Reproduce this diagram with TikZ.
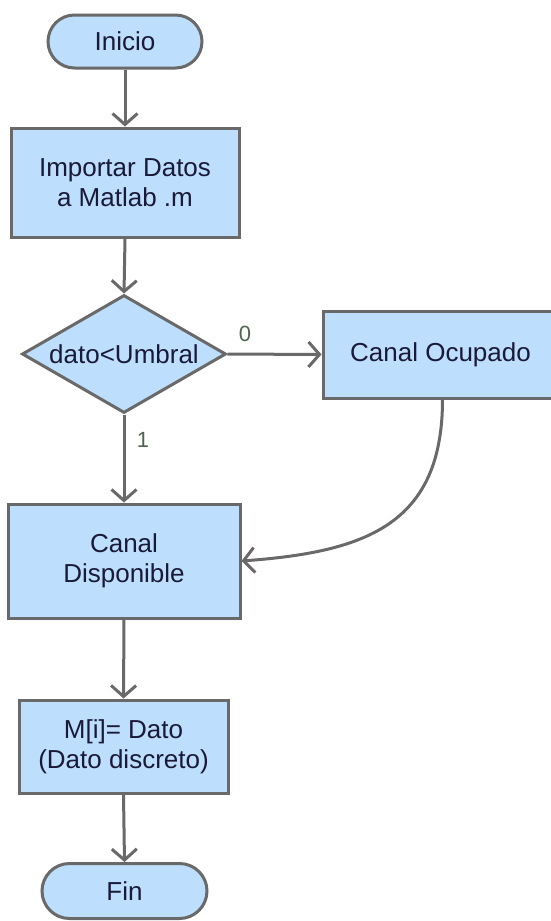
\documentclass[tikz,border=0pt]{standalone}
\usepackage{fontspec}
\setmainfont{Liberation Sans}
\usetikzlibrary{arrows.meta,shapes.geometric,shapes.misc}
\definecolor{boxfill}{RGB}{189,222,253}
\definecolor{boxline}{RGB}{105,105,105}
\definecolor{txt}{RGB}{26,26,56}
\definecolor{lbl}{RGB}{80,100,80}
\tikzset{
  base/.style={draw=boxline, fill=boxfill, line width=3pt, text=txt, align=center,
     font=\fontsize{26}{30}\selectfont, inner sep=0pt},
  procbox/.style={base, rectangle},
  termbox/.style={base, rounded rectangle},
  decbox/.style={base, diamond, aspect=1.73, line join=miter},
  conn/.style={draw=boxline, line width=3pt, -{Straight Barb[length=11pt,width=25pt,line width=3pt]}},
  edgelbl/.style={text=lbl, font=\fontsize{22}{24}\selectfont}
}
\begin{document}
\begin{tikzpicture}[x=1pt,y=-1pt]
\useasboundingbox (0,0) rectangle (550,921);
\node[termbox, minimum width=154pt, minimum height=53pt] (ini) at (125,41.5) {Inicio};
\node[procbox, minimum width=228pt, minimum height=109pt] (imp) at (125,182.5) {Importar Datos\\a Matlab .m};
\node[decbox, minimum width=204pt, minimum height=118pt] (dec) at (124,354) {dato<Umbral};
\node[procbox, minimum width=235pt, minimum height=87pt] (ocu) at (440.5,354.5) {Canal Ocupado};
\node[procbox, minimum width=232pt, minimum height=114pt] (dis) at (124,561) {Canal\\Disponible};
\node[procbox, minimum width=209pt, minimum height=93pt] (mm) at (123.5,746.5) {M[i]= Dato\\(Dato discreto)};
\node[termbox, minimum width=165pt, minimum height=55pt] (fin) at (124.5,891) {Fin};
\draw[conn] (ini.south) -- (imp.north);
\draw[conn] (imp.south) -- (dec.north);
\draw[conn] (dec.east) -- (ocu.west);
\draw[conn] (dec.south) -- (dis.north);
\draw[conn] (ocu.south -| 442.5,0) .. controls (442.5,525) and (365,552) .. (dis.east);
\draw[conn] (dis.south) -- (mm.north);
\draw[conn] (mm.south) -- (fin.north);
\node[edgelbl] (l0) at (245,334) {0};
\node[edgelbl] (l1) at (143,440) {1};
\end{tikzpicture}
\end{document}
